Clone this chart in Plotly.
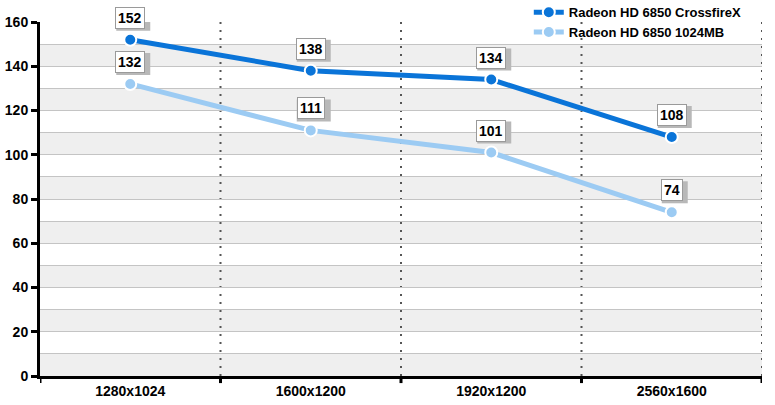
import plotly.graph_objects as go

categories = ["1280x1024", "1600x1200", "1920x1200", "2560x1600"]
series_names = ["Radeon HD 6850 CrossfireX", "Radeon HD 6850 1024MB"]
crossfire = [152, 138, 134, 108]
single = [132, 111, 101, 74]
y_ticks = [0, 20, 40, 60, 80, 100, 120, 140, 160]

colors = ["#0a74d8", "#9ccbf3"]
xs = list(range(len(categories)))
FONT = "Liberation Sans, Arial"

fig = go.Figure()
for name, vals, c in zip(series_names, [crossfire, single], colors):
    fig.add_trace(go.Scatter(
        x=xs, y=vals, name=name, mode="lines+markers",
        line=dict(color=c, width=5),
        marker=dict(size=12, color=c, line=dict(color="white", width=2)),
    ))

shapes = []
# alternating bands
for lo in range(0, 160, 20):
    shapes.append(dict(type="rect", xref="paper", yref="y", x0=0, x1=1, y0=lo, y1=lo + 10,
                       fillcolor="#efefef", line=dict(width=0), layer="below"))
# vertical dotted lines at category boundaries
for b in [0.5, 1.5, 2.5, 3.5]:
    shapes.append(dict(type="line", xref="x", yref="paper", x0=b, x1=b, y0=0, y1=1,
                       line=dict(color="#555555", width=2, dash="2px,6px"), layer="below"))
# x tick marks at boundaries
for b in [-0.5, 0.5, 1.5, 2.5, 3.5]:
    shapes.append(dict(type="line", xref="x", yref="paper", x0=b, x1=b, y0=0, y1=-0.02,
                       line=dict(color="black", width=3)))

annotations = []
for vals in [crossfire, single]:
    for x, v in zip(xs, vals):
        w = 8 * len(str(v)) + 10
        # shadow behind label box
        shapes.append(dict(type="rect", xref="x", yref="y", xsizemode="pixel", ysizemode="pixel",
                           xanchor=x, yanchor=v, x0=-w / 2 + 3, x1=w / 2 + 3, y0=9, y1=31,
                           fillcolor="#b8b8b8", line=dict(width=0)))
        annotations.append(dict(x=x, y=v, text=str(v), showarrow=False,
                                yshift=22, bgcolor="white", borderpad=2,
                                bordercolor="#9a9a9a", borderwidth=1,
                                font=dict(family=FONT, size=14, color="black", weight="bold")))

fig.update_layout(
    width=775, height=405,
    margin=dict(l=40, r=13, t=22, b=29, autoexpand=False),
    paper_bgcolor="white", plot_bgcolor="white",
    font=dict(family=FONT, size=13, color="black", weight="bold"),
    shapes=shapes, annotations=annotations,
    legend=dict(x=0.677, y=1.07, xanchor="left", yanchor="top",
                bgcolor="rgba(0,0,0,0)", font=dict(size=13, family=FONT, weight="bold"),
                tracegroupgap=0, itemwidth=30),
    xaxis=dict(range=[-0.5, 3.5], tickvals=xs, ticktext=categories,
               showgrid=False, zeroline=False, showline=True, linecolor="black", linewidth=3,
               ticks="", tickfont=dict(size=14, weight="bold")),
    yaxis=dict(range=[0, 160], tickvals=y_ticks,
               showgrid=True, gridcolor="#c4c4c4", gridwidth=1,
               minor=dict(dtick=10, tick0=0, showgrid=True, gridcolor="#c4c4c4", gridwidth=1),
               zeroline=False, showline=True, linecolor="black", linewidth=3,
               ticks="outside", ticklen=6, tickwidth=3, tickcolor="black",
               tickfont=dict(size=14, weight="bold")),
)

fig.write_html("out.html", config={"displayModeBar": False},
               post_script="document.body.style.margin='0';document.body.style.overflow='hidden';")
